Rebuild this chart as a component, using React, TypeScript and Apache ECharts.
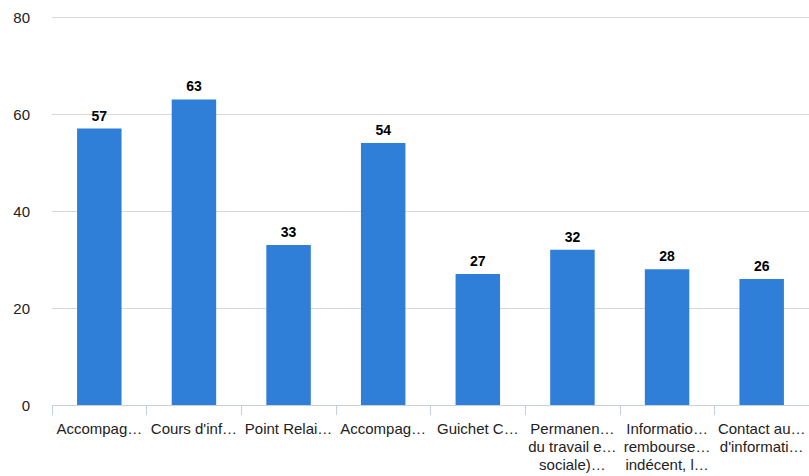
import React, { useEffect, useRef } from "react";
import * as echarts from "echarts";

const categories = [
  "Accompag…",
  "Cours d'inf…",
  "Point Relai…",
  "Accompag…",
  "Guichet C…",
  "Permanen…\ndu travail e…\nsociale)…",
  "Informatio…\nrembourse…\nindécent, l…",
  "Contact au…\nd'informati…",
];
const values = [57, 63, 33, 54, 27, 32, 28, 26];
const yTicks = { min: 0, max: 80, interval: 20 };

export default function App() {
  const ref = useRef<HTMLDivElement>(null);
  useEffect(() => {
    if (!ref.current) return;
    const chart = echarts.init(ref.current, undefined, { renderer: "svg" });
    const ff = "'Liberation Sans', Arial, sans-serif";
    chart.setOption({
      animation: false,
      textStyle: { fontFamily: ff },
      grid: { left: 52, top: 17, bottom: 71, width: 762 },
      xAxis: {
        type: "category",
        data: categories,
        axisLine: { lineStyle: { color: "#c8d0d8", width: 1 } },
        axisTick: { show: true, length: 10, lineStyle: { color: "#c0d0e0" } },
        axisLabel: {
          color: "#222",
          fontSize: 15,
          fontFamily: ff,
          lineHeight: 18,
          margin: 14,
          interval: 0,
        },
      },
      yAxis: {
        type: "value",
        min: yTicks.min,
        max: yTicks.max,
        interval: yTicks.interval,
        axisLine: { show: false },
        axisTick: { show: false },
        splitLine: { lineStyle: { color: "#d8d8d8" } },
        axisLabel: { color: "#222", fontSize: 15, margin: 22, fontFamily: ff },
      },
      series: [
        {
          type: "bar",
          data: values,
          barWidth: "47%",
          itemStyle: { color: "#2f7ed8" },
          label: {
            show: true,
            position: "top",
            color: "#000",
            fontWeight: "bold",
            fontSize: 14,
            distance: 6,
            fontFamily: ff,
          },
        },
      ],
    });
    return () => chart.dispose();
  }, []);
  return <div ref={ref} style={{ width: 809, height: 476, position: "absolute", left: 0, top: 0 }} />;
}
